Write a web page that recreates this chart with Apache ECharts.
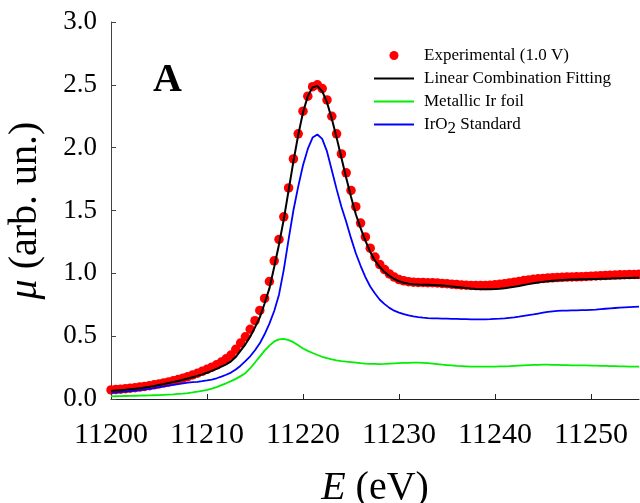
<!DOCTYPE html>
<html>
<head>
<meta charset="utf-8">
<script src="https://cdn.jsdelivr.net/npm/echarts@6/dist/echarts.min.js"></script>
<style>html,body{margin:0;padding:0;background:#fff;}#c{width:640px;height:503px;}</style>
</head>
<body>
<div id="c"></div>
<script>
const energy = [11200,11200.5,11201,11201.5,11202,11202.5,11203,11203.5,11204,11204.5,
11205,11205.5,11206,11206.5,11207,11207.5,11208,11208.5,11209,11209.5,
11210,11210.5,11211,11211.5,11212,11212.5,11213,11213.5,11214,11214.5,
11215,11215.5,11216,11216.5,11217,11217.5,11218,11218.5,11219,11219.5,
11220,11220.5,11221,11221.5,11222,11222.5,11223,11223.5,11224,11224.5,
11225,11225.5,11226,11226.5,11227,11227.5,11228,11228.5,11229,11229.5,
11230,11230.5,11231,11231.5,11232,11232.5,11233,11233.5,11234,11234.5,
11235,11235.5,11236,11236.5,11237,11237.5,11238,11238.5,11239,11239.5,
11240,11240.5,11241,11241.5,11242,11242.5,11243,11243.5,11244,11244.5,
11245,11245.5,11246,11246.5,11247,11247.5,11248,11248.5,11249,11249.5,
11250,11250.5,11251,11251.5,11252,11252.5,11253,11253.5,11254,11254.5,11255];

const experimental = [0.072,0.075,0.078,0.082,0.086,0.090,0.095,0.100,0.106,0.113,
0.120,0.128,0.136,0.145,0.155,0.166,0.178,0.191,0.205,0.220,
0.236,0.253,0.272,0.294,0.320,0.350,0.395,0.445,0.495,0.555,
0.623,0.705,0.800,0.935,1.10,1.27,1.45,1.68,1.91,2.11,
2.29,2.41,2.485,2.50,2.47,2.38,2.25,2.11,1.95,1.80,
1.66,1.53,1.40,1.29,1.20,1.13,1.07,1.03,0.995,0.970,
0.950,0.940,0.933,0.930,0.928,0.927,0.926,0.925,0.923,0.920,
0.917,0.914,0.911,0.908,0.906,0.904,0.903,0.903,0.904,0.906,
0.909,0.913,0.918,0.924,0.930,0.936,0.942,0.947,0.952,0.956,
0.959,0.962,0.964,0.966,0.968,0.970,0.971,0.972,0.973,0.975,
0.977,0.979,0.981,0.983,0.985,0.986,0.988,0.989,0.990,0.991,0.992];

const lcf = [0.064,0.067,0.070,0.073,0.077,0.081,0.086,0.091,0.097,0.104,
0.112,0.119,0.127,0.135,0.144,0.153,0.163,0.173,0.184,0.196,
0.209,0.224,0.240,0.258,0.276,0.300,0.335,0.385,0.435,0.495,
0.570,0.650,0.760,0.880,1.050,1.230,1.430,1.660,1.890,2.100,
2.280,2.410,2.480,2.490,2.450,2.360,2.230,2.080,1.920,1.760,
1.610,1.470,1.360,1.260,1.170,1.100,1.050,1.010,0.980,0.955,
0.937,0.925,0.918,0.913,0.911,0.910,0.909,0.908,0.906,0.903,
0.899,0.895,0.891,0.887,0.883,0.879,0.876,0.874,0.873,0.873,
0.875,0.878,0.882,0.887,0.893,0.900,0.907,0.914,0.921,0.927,
0.932,0.937,0.941,0.944,0.946,0.948,0.950,0.951,0.952,0.953,
0.954,0.955,0.956,0.957,0.958,0.960,0.961,0.962,0.963,0.964,0.965];

const irFoil = [0.021,0.022,0.023,0.024,0.025,0.026,0.027,0.028,0.029,0.030,
0.031,0.033,0.035,0.037,0.040,0.043,0.047,0.052,0.058,0.065,
0.072,0.082,0.095,0.110,0.125,0.142,0.160,0.182,0.205,0.245,
0.290,0.337,0.385,0.425,0.458,0.474,0.478,0.468,0.452,0.427,
0.402,0.383,0.366,0.350,0.336,0.325,0.316,0.308,0.302,0.297,
0.293,0.289,0.285,0.282,0.280,0.279,0.278,0.279,0.281,0.283,
0.285,0.287,0.288,0.289,0.289,0.288,0.285,0.281,0.277,0.273,
0.270,0.267,0.264,0.262,0.260,0.258,0.257,0.257,0.257,0.257,
0.258,0.259,0.260,0.261,0.263,0.265,0.267,0.269,0.271,0.272,
0.273,0.273,0.272,0.271,0.270,0.269,0.268,0.268,0.268,0.267,
0.266,0.265,0.264,0.263,0.262,0.261,0.260,0.259,0.258,0.257,0.257];

const iro2 = [0.050,0.053,0.056,0.059,0.063,0.067,0.071,0.076,0.081,0.087,
0.094,0.100,0.106,0.112,0.118,0.124,0.130,0.134,0.137,0.142,
0.148,0.155,0.165,0.178,0.193,0.210,0.235,0.265,0.302,0.340,
0.388,0.443,0.515,0.600,0.700,0.830,1.030,1.270,1.500,1.690,
1.860,1.990,2.080,2.105,2.070,1.970,1.820,1.670,1.530,1.410,
1.280,1.160,1.060,0.970,0.895,0.840,0.790,0.755,0.725,0.703,
0.688,0.675,0.665,0.657,0.651,0.647,0.644,0.642,0.641,0.640,
0.639,0.638,0.637,0.636,0.635,0.634,0.634,0.634,0.634,0.635,
0.637,0.639,0.642,0.646,0.650,0.655,0.661,0.667,0.673,0.680,
0.687,0.693,0.698,0.701,0.703,0.704,0.705,0.706,0.707,0.708,
0.710,0.712,0.715,0.718,0.721,0.724,0.727,0.729,0.731,0.733,0.735];

const seriesNames = ['Experimental (1.0 V)','Linear Combination Fitting','Metallic Ir foil','IrO2 Standard'];
const xTicks = [11200,11210,11220,11230,11240,11250];
const yTicks = [0.0,0.5,1.0,1.5,2.0,2.5,3.0];

const pairs = arr => energy.map((e,i)=>[e,arr[i]]);
const serif = 'Liberation Serif, Times New Roman, serif';

const chart = echarts.init(document.getElementById('c'), null, {renderer:'canvas'});
chart.setOption({
  animation:false,
  backgroundColor:'#fff',
  grid:{left:111,right:1,top:22,bottom:104,containLabel:false,outerBoundsMode:'none'},
  legend:{
    left:368, top:42, orient:'vertical',
    itemWidth:40, itemHeight:9, itemGap:6,
    textStyle:{fontFamily:serif,fontSize:17,color:'#000',lineHeight:17,padding:[0,0,0,5],
      rich:{n:{fontFamily:serif,fontSize:17,color:'#000'},
            s:{fontFamily:serif,fontSize:17,color:'#000',padding:[8,0,0,0]}}},
    formatter: name => name==='IrO2 Standard' ? '{n|IrO}{s|2}{n| Standard}' : name,
    data:[{name:seriesNames[0],icon:'circle'},
          {name:seriesNames[1],itemStyle:{opacity:0}},
          {name:seriesNames[2],itemStyle:{opacity:0}},
          {name:seriesNames[3],itemStyle:{opacity:0}}]
  },
  xAxis:{
    type:'value', min:11200, max:11255, interval:10,
    axisLine:{lineStyle:{color:'#222',width:1}},
    axisTick:{inside:true,length:5,lineStyle:{color:'#222'}},
    splitLine:{show:false},
    axisLabel:{fontFamily:serif,fontSize:30,color:'#000',margin:21,showMaxLabel:false,
      formatter:v=> xTicks.indexOf(v)>=0 ? String(v) : ''},
    name:'{i|E} (eV)', nameLocation:'middle', nameGap:69,
    nameTextStyle:{fontFamily:serif,fontSize:40,color:'#000',
      rich:{i:{fontFamily:serif,fontSize:40,fontStyle:'italic',color:'#000'}}}
  },
  yAxis:{
    type:'value', min:0, max:3, interval:0.5,
    axisLine:{show:true,lineStyle:{color:'#444',width:1}},
    axisTick:{show:true,inside:true,length:5,lineStyle:{color:'#444'}},
    splitLine:{show:false},
    axisLabel:{fontFamily:serif,fontSize:27,color:'#000',margin:14,
      formatter:v=> yTicks.indexOf(v)>=0 ? v.toFixed(1) : ''},
    name:'{i|μ} (arb. un.)', nameLocation:'middle', nameGap:66,
    nameTextStyle:{fontFamily:serif,fontSize:40,color:'#000',
      rich:{i:{fontFamily:serif,fontSize:40,fontStyle:'italic',color:'#000'}}}
  },
  graphic:[{type:'text',left:153,top:61,style:{text:'A',font:'bold 40px '+serif,fill:'#000'}}],
  series:[
    {name:seriesNames[0],type:'scatter',data:pairs(experimental),symbol:'circle',symbolSize:9.5,
     itemStyle:{color:'#ff0000',opacity:1},z:1},
    {name:seriesNames[2],type:'line',data:pairs(irFoil),showSymbol:false,symbol:'none',
     lineStyle:{color:'#00ee00',width:1.8},itemStyle:{color:'#00ee00'},z:2},
    {name:seriesNames[3],type:'line',data:pairs(iro2),showSymbol:false,symbol:'none',
     lineStyle:{color:'#0000ff',width:1.8},itemStyle:{color:'#0000ff'},z:2},
    {name:seriesNames[1],type:'line',data:pairs(lcf),showSymbol:false,symbol:'none',
     lineStyle:{color:'#000000',width:2},itemStyle:{color:'#000000'},z:3}
  ]
});
</script>
</body>
</html>
